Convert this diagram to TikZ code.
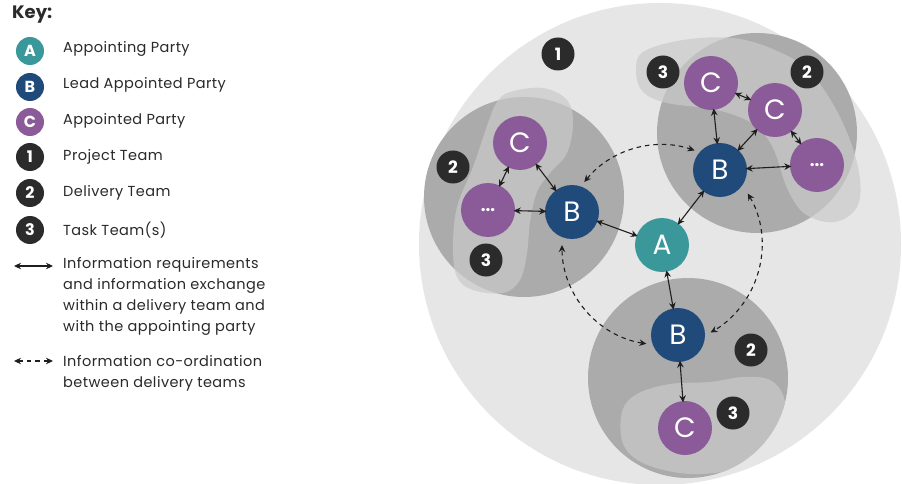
\documentclass[tikz,border=0pt]{standalone}
\usepackage{fontspec}
\setmainfont{Poppins}
\newfontfamily\keyfont{Poppins}[LetterSpace=3]
\usetikzlibrary{arrows.meta}
\definecolor{colA}{HTML}{3A979A}
\definecolor{colB}{HTML}{1F4A7A}
\definecolor{colC}{HTML}{8B5A98}
\definecolor{badgec}{HTML}{2B2B2B}
\definecolor{projc}{HTML}{E6E6E6}
\definecolor{delc}{HTML}{ABABAB}
\definecolor{blobc}{HTML}{CACACA}
\definecolor{arrowc}{HTML}{1E1E1E}
\definecolor{textc}{HTML}{2A2A2A}
\begin{document}
\begin{tikzpicture}[x=1pt,y=-1pt,
  party/.style={circle, minimum size=54pt, inner sep=0pt, text=white,
    font=\fontsize{28}{28}\selectfont},
  pA/.style={party, fill=colA},
  pB/.style={party, fill=colB},
  pC/.style={party, fill=colC},
  dots/.style={party, fill=colC, font=\fontsize{17}{17}\selectfont\bfseries},
  badge/.style={circle, fill=badgec, minimum size=33pt, inner sep=0pt,
    text=white, font=\fontsize{17}{17}\selectfont\bfseries},
  keyicon/.style={circle, minimum size=28pt, inner sep=0pt, text=white,
    font=\fontsize{16}{16}\selectfont\bfseries},
  keytext/.style={anchor=west, inner sep=0pt, text=textc,
    font=\keyfont\fontsize{14.5}{21}\selectfont, align=left},
  link/.style={{Stealth[length=7pt,width=6.5pt]}-{Stealth[length=7pt,width=6.5pt]},
    line width=1.1pt, draw=arrowc, shorten <=-1.5pt, shorten >=-1.5pt},
  coordlink/.style={link, dash pattern=on 4.5pt off 4pt},
  blob/.style={fill=blobc, opacity=0.7}
]
\useasboundingbox (0,0) rectangle (902,484);
\fill[white] (0,0) rectangle (902,484);

% ---------- key ----------
\node[anchor=west, inner sep=0pt, text=badgec, font=\fontsize{18}{18}\selectfont\bfseries] (key) at (12,15) {Key:};
\node[keyicon, fill=colA] (kA) at (30,51) {A};
\node[keytext] (tA) at (63,49) {Appointing Party};
\node[keyicon, fill=colB] (kB) at (30,87) {B};
\node[keytext] (tB) at (63,85) {Lead Appointed Party};
\node[keyicon, fill=colC] (kC) at (30,122) {C};
\node[keytext] (tC) at (63,121) {Appointed Party};
\node[keyicon, fill=badgec] (k1) at (30,157) {1};
\node[keytext] (t1) at (63,157) {Project Team};
\node[keyicon, fill=badgec] (k2) at (30,193) {2};
\node[keytext] (t2) at (63,193) {Delivery Team};
\node[keyicon, fill=badgec] (k3) at (30,230) {3};
\node[keytext] (t3) at (63,230) {Task Team(s)};

\coordinate (la1) at (14,266);
\coordinate (la2) at (53,266);
\draw[link, shorten <=0pt, shorten >=0pt] (la1) -- (la2);
\node[keytext, anchor=north west] (tl1) at (63,257) {Information requirements\\and information exchange\\within a delivery team and\\with the appointing party};
\coordinate (lb1) at (14,361);
\coordinate (lb2) at (53,361);
\draw[coordlink, shorten <=0pt, shorten >=0pt] (lb1) -- (lb2);
\node[keytext, anchor=north west] (tl2) at (63,355) {Information co-ordination\\between delivery teams};

% ---------- project team ----------
\fill[projc] (660,244) circle[radius=241];

% delivery teams
\fill[delc] (524,197) circle[radius=100];
\fill[delc] (757,133) circle[radius=100];
\fill[delc] (688,378) circle[radius=100];

% task teams
\fill[blob] plot[smooth cycle, tension=0.6] coordinates {
  (510,92) (543,88) (567,100) (573,123) (567,153) (550,173) (537,192)
  (530,222) (527,253) (520,280) (503,293) (473,290) (457,277) (453,247)
  (457,207) (473,167) (488,123) (497,102)};
\fill[blob] plot[smooth cycle, tension=0.6] coordinates {
  (643,52) (683,40) (733,38) (775,50) (810,72) (840,117) (858,167)
  (858,205) (835,222) (805,214) (787,188) (773,148) (753,124) (717,110)
  (667,103) (643,92) (636,72)};
\begin{scope}
  \clip (688,378) circle[radius=100];
  \fill[blob] plot[smooth cycle, tension=0.6] coordinates {
    (622,412) (637,394) (670,384) (710,382) (743,377) (770,380) (784,398)
    (784,430) (760,462) (700,474) (650,466) (624,446)};
\end{scope}

% ---------- parties ----------
\node[pA] (A) at (662,245) {A};
\node[pB] (B1) at (572,212) {B};
\node[pC] (C1) at (520,143) {C};
\node[dots] (D1) at (488,210) {...};

\node[pB] (B2) at (720,170) {B};
\node[pC] (C2) at (711,83) {C};
\node[pC] (C3) at (775,110) {C};
\node[dots] (D2) at (817,165) {...};

\node[pB] (B3) at (678,335) {B};
\node[pC] (C4) at (685,428) {C};

% badges
\node[badge] (n1) at (558,54) {1};
\node[badge] (n2a) at (453,167) {2};
\node[badge] (n3a) at (486,260) {3};
\node[badge] (n2b) at (807,72) {2};
\node[badge] (n3b) at (663,72) {3};
\node[badge] (n2c) at (751,350) {2};
\node[badge] (n3c) at (733,413) {3};

% ---------- solid links ----------
\draw[link] (A) -- (B1);
\draw[link] (A) -- (B2);
\draw[link] (A) -- (B3);
\draw[link] (B1) -- (C1);
\draw[link] (B1) -- (D1);
\draw[link] (C1) -- (D1);
\draw[link] (B2) -- (C2);
\draw[link] (B2) -- (C3);
\draw[link] (C2) -- (C3);
\draw[link] (C3) -- (D2);
\draw[link] (B2) -- (D2);
\draw[link] (B3) -- (C4);

% ---------- coordination arcs ----------
\draw[coordlink, shorten <=0pt, shorten >=0pt] (A.center) ++(-141:100) arc[start angle=-141, end angle=-71, radius=100];
\draw[coordlink, shorten <=0pt, shorten >=0pt] (A.center) ++(-31:100) arc[start angle=-31, end angle=61, radius=100];
\draw[coordlink, shorten <=0pt, shorten >=0pt] (A.center) ++(99:100) arc[start angle=99, end angle=180, radius=100];
\end{tikzpicture}
\end{document}
